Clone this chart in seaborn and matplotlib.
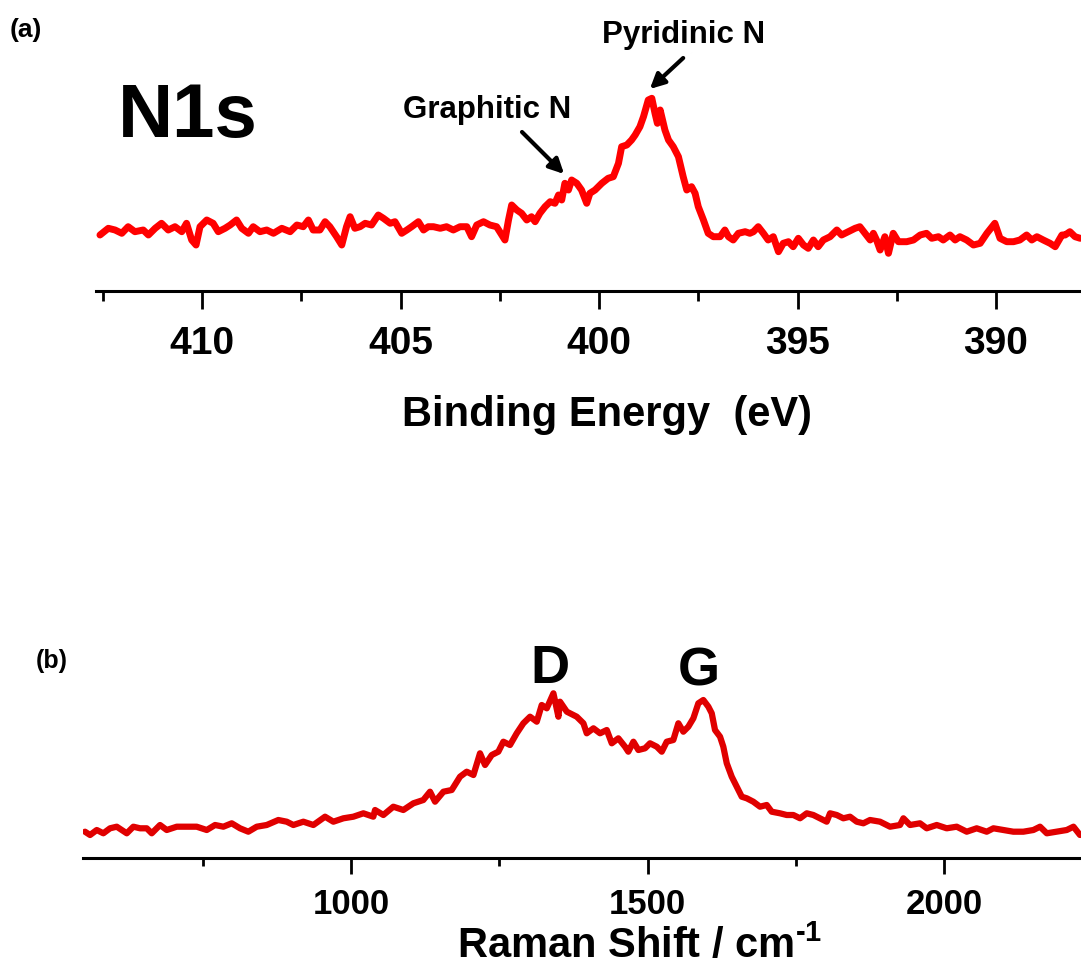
import matplotlib
matplotlib.use("Agg")
import matplotlib.pyplot as plt
from matplotlib.ticker import MultipleLocator
import seaborn as sns

# ---- Data ----
# (a) XPS N1s, binding energy (eV) vs intensity (a.u.)
be_n1s = [412.57, 412.36, 412.19, 412.02, 411.86, 411.69, 411.48, 411.35, 411.18, 411.02,
          410.85, 410.68, 410.51, 410.39, 410.26, 410.15, 410.05, 409.88, 409.72, 409.59,
          409.42, 409.29, 409.13, 409.00, 408.83, 408.71, 408.54, 408.37, 408.20, 407.99,
          407.78, 407.61, 407.45, 407.32, 407.20, 407.03, 406.90, 406.78, 406.61, 406.48,
          406.36, 406.27, 406.15, 406.02, 405.89, 405.73, 405.56, 405.43, 405.26, 405.14,
          404.97, 404.84, 404.72, 404.55, 404.42, 404.30,
          404.17, 404.00, 403.84, 403.67, 403.50, 403.33, 403.21, 403.08, 402.91, 402.75,
          402.58, 402.37, 402.28, 402.20, 402.07, 401.95, 401.82, 401.70, 401.61, 401.49,
          401.36, 401.23, 401.11, 401.02, 400.94, 400.86, 400.77, 400.69, 400.56, 400.44,
          400.31, 400.23, 400.10, 399.93, 399.77, 399.64, 399.51, 399.43, 399.30, 399.18,
          399.09, 398.97, 398.88, 398.76, 398.67, 398.59, 398.53, 398.46, 398.34, 398.25,
          398.13, 398.00, 397.88, 397.79, 397.67, 397.58, 397.50, 397.37, 397.25, 397.12,
          396.95, 396.83, 396.74, 396.62, 396.49, 396.32, 396.20,
          396.11, 395.99, 395.86, 395.74, 395.61, 395.48, 395.36, 395.23, 395.11, 394.98,
          394.85, 394.73, 394.60, 394.48, 394.35, 394.18, 394.01, 393.89, 393.72, 393.55,
          393.43, 393.30, 393.17, 393.09, 393.01, 392.92, 392.80, 392.71, 392.59, 392.46,
          392.25, 392.08, 391.91, 391.75, 391.62, 391.45, 391.33, 391.16, 391.03, 390.91,
          390.74, 390.57, 390.40, 390.23, 390.03, 389.90, 389.73, 389.56, 389.40, 389.23,
          389.10, 388.97, 388.81, 388.64, 388.51, 388.34, 388.26, 388.14, 388.01, 387.88]
int_n1s = [56, 62.7, 61, 57.7, 64.3, 59.3, 61, 56, 62.7, 67.7,
           61, 64.3, 59.3, 67.7, 51, 46, 64.3, 71, 67.7, 59.3,
           62.7, 66, 71, 62.7, 57.7, 64.3, 59.3, 61, 57.7, 62.7,
           59.3, 66, 64.3, 71, 61, 61, 69.3, 64.3, 54.3, 46,
           64.3, 74.3, 62.7, 64.3, 67.7, 66, 76, 72.7, 67.7, 69.3,
           57.7, 61, 64.3, 69.3, 61, 64.3,
           64.3, 62.7, 64.3, 61, 64.3, 64.3, 54.3, 66, 69.3, 66,
           64.3, 51, 71, 86, 81, 77.7, 71, 74.3, 69.3, 77.7,
           84.3, 89.3, 87.7, 96, 91, 107.7, 101, 111, 107.7, 101,
           87.7, 97.7, 101, 107.7, 112.7, 114.3, 127.7, 144.3, 146, 151,
           156, 164.3, 174.3, 191, 192.7, 177.7, 167.7, 181, 161, 151,
           144.3, 134.3, 114.3, 101, 104.3, 97.7, 84.3, 71, 57.7, 54.3,
           54.3, 61, 54.3, 51, 57.7, 59.3, 57.7,
           59.3, 64.3, 57.7, 51, 54.3, 39.3, 47.7, 49.3, 44.3, 52.7,
           46, 42.7, 51, 44.3, 51, 54.3, 61, 56, 59.3, 62.7,
           64.3, 57.7, 51, 57.7, 51, 41, 54.3, 37.7, 57.7, 49.3,
           49.3, 51, 56, 57.7, 52.7, 54.3, 51, 56, 51, 54.3,
           51, 46, 47.7, 57.7, 67.7, 52.7, 49.3, 49.3, 51, 56,
           51, 54.3, 51, 47.7, 44.3, 56, 56, 59.3, 54.3, 52.7]

# (b) Raman, shift (cm-1) vs intensity (a.u.)
raman_shift = [551.4, 559.9, 571.2, 582.3, 593.6, 604.9, 613.3, 621.8, 632.9, 644.2,
               655.5, 663.9, 677.9, 689.2, 706.1, 722.9, 739.8, 756.7, 770.7, 784.7,
               798.8, 812.8, 826.8, 841.0, 857.8, 877.4, 891.6, 902.7, 919.6, 936.5,
               956.2, 970.2, 987.1, 1003.9, 1020.8, 1037.6, 1040.5, 1054.5, 1071.3, 1088.2,
               1105.1, 1121.9, 1133.2, 1141.7, 1155.8, 1169.8, 1183.8, 1195.1, 1206.4, 1217.5,
               1226.0, 1237.3, 1248.4, 1256.9, 1268.1, 1279.4, 1290.6, 1301.9, 1313.2, 1321.6,
               1330.1, 1341.3, 1349.7, 1352.4, 1363.9,
               1380.6, 1391.9, 1397.5, 1408.8, 1419.9, 1431.3, 1439.7, 1450.8, 1462.1, 1467.6,
               1476.2, 1484.6, 1495.8, 1504.2, 1515.6, 1524.0, 1532.4, 1543.5, 1552.0, 1560.4,
               1568.8, 1577.3, 1585.7, 1594.1, 1602.6, 1608.3, 1613.8, 1622.3, 1627.8, 1633.6,
               1642.0, 1650.4, 1658.9, 1667.3, 1678.4, 1689.7, 1701.0, 1709.4, 1723.4, 1734.7,
               1745.9, 1757.2, 1768.5, 1779.6, 1790.9, 1802.2, 1807.8, 1819.1, 1830.2, 1841.5,
               1852.8, 1864.0, 1875.2, 1892.1, 1909.0, 1925.8, 1931.5, 1942.7, 1959.5, 1970.8,
               1987.7, 2004.5, 2021.4, 2038.3, 2055.1, 2072.0, 2083.3, 2100.0, 2116.9, 2133.8,
               2150.7, 2161.9, 2173.3, 2190.1, 2207.0, 2218.3, 2229.3]
raman_int = [26.3, 23, 28, 24.7, 29.7, 31.3, 28, 24.7, 31.3, 29.7,
             29.7, 24.7, 33, 28, 31.3, 31.3, 31.3, 28, 33, 31.3,
             34.7, 29.7, 26.3, 31.3, 33, 38, 36.3, 33, 36.3, 33,
             41.3, 36.3, 39.7, 41.3, 44.7, 41.3, 48, 43, 51.3, 48,
             54.7, 58, 66.3, 56.3, 66.3, 68, 81.3, 86.3, 83, 104.7,
             93, 103, 106.3, 116.3, 113, 124.7, 134.7, 141.3, 136.3, 153,
             149.7, 164.7, 141.3, 156.3, 146.3,
             141.3, 134.7, 124.7, 129.7, 124.7, 128, 114.7, 119.7, 111.3, 106.3,
             116.3, 108, 109.7, 114.7, 111.3, 106.3, 116.3, 118, 134.7, 126.3,
             131.3, 139.7, 154.7, 158, 151.3, 144.7, 128, 121.3, 111.3, 94.7,
             81.3, 71.3, 61.3, 59.7, 56.3, 51.3, 53, 46.3, 44.7, 43,
             43, 39.7, 44.7, 43, 39.7, 36.3, 44.7, 43, 39.7, 41.3,
             36.3, 34.7, 38, 36.3, 31.3, 33, 39.7, 33, 34.7, 29.7,
             33, 29.7, 31.3, 26.3, 29.7, 26.3, 29.7, 28, 26.3, 26.3,
             28, 31.3, 24.7, 26.3, 28, 31.3, 23]

xps_ticks = [410, 405, 400, 395, 390]
raman_ticks = [1000, 1500, 2000]

# ---- Style ----
sns.set_style("white")
plt.rcParams['font.family'] = ['Liberation Sans', 'DejaVu Sans']
plt.rcParams['font.weight'] = 'bold'
plt.rcParams['text.color'] = 'black'
plt.rcParams['axes.labelcolor'] = 'black'
plt.rcParams['xtick.color'] = 'black'
plt.rcParams['mathtext.fontset'] = 'custom'
plt.rcParams['mathtext.rm'] = 'Liberation Sans:bold'
plt.rcParams['mathtext.bf'] = 'Liberation Sans:bold'

fig = plt.figure(figsize=(10.81, 9.73), dpi=100)
ax1 = fig.add_axes([96 / 1081, 682 / 973, 985 / 1081, 291 / 973])
ax2 = fig.add_axes([83 / 1081, 115 / 973, 998 / 1081, 238 / 973])

for ax in (ax1, ax2):
    ax.set_facecolor('white')
    for s in ('left', 'right', 'top'):
        ax.spines[s].set_visible(False)
    ax.spines['bottom'].set_linewidth(2.2)
    ax.spines['bottom'].set_color('black')
    ax.set_yticks([])
    ax.set_ylabel('')
    ax.grid(False)

# ---- (a) N1s ----
sns.lineplot(x=be_n1s, y=int_n1s, ax=ax1, color='#FF0000', linewidth=5,
             solid_joinstyle='round', solid_capstyle='round')
ax1.set_xlim(412.67, 387.86)
ax1.set_ylim(0, 291)
ax1.set_xticks(xps_ticks)
ax1.xaxis.set_minor_locator(MultipleLocator(2.5))
ax1.tick_params(axis='x', which='major', direction='out', length=13, width=2,
                labelsize=28, pad=12, bottom=True, colors='black')
ax1.tick_params(axis='x', which='minor', direction='out', length=7, width=2, bottom=True)
ax1.set_xlabel('Binding Energy  (eV)', fontsize=30, fontweight='bold')
ax1.xaxis.set_label_coords(0.519, -0.425)
ax1.xaxis.label.set_va('center')

ax1.text(412.12, 154, 'N1s', fontsize=55, fontweight='bold', ha='left', va='baseline')
ax1.text(402.82, 173, 'Graphitic N', fontsize=22.5, fontweight='bold', ha='center', va='baseline')
ax1.text(397.86, 248, 'Pyridinic N', fontsize=22.5, fontweight='bold', ha='center', va='baseline')
arrow = dict(arrowstyle='-|>', color='black', lw=3, mutation_scale=22, shrinkA=0, shrinkB=0)
ax1.annotate('', xy=(400.88, 117), xytext=(401.94, 159), arrowprops=arrow)
ax1.annotate('', xy=(398.72, 202), xytext=(397.88, 233), arrowprops=arrow)

# ---- (b) Raman ----
sns.lineplot(x=raman_shift, y=raman_int, ax=ax2, color='#E00000', linewidth=4.5,
             solid_joinstyle='round', solid_capstyle='round')
ax2.set_xlim(548, 2231)
ax2.set_ylim(0, 238)
ax2.set_xticks(raman_ticks)
ax2.xaxis.set_minor_locator(MultipleLocator(250))
ax2.tick_params(axis='x', which='major', direction='out', length=11.5, width=2,
                labelsize=25, pad=10, bottom=True, colors='black')
ax2.tick_params(axis='x', which='minor', direction='out', length=6, width=2, bottom=True)
ax2.set_xlabel('Raman Shift / cm$^{\u2010\\mathbf{1}}$', fontsize=30, fontweight='bold')
ax2.xaxis.set_label_coords(0.558, -0.37)
ax2.xaxis.label.set_va('center')

ax2.text(1336, 189, 'D', fontsize=39, fontweight='bold', ha='center', va='center')
ax2.text(1586, 186, 'G', fontsize=39, fontweight='bold', ha='center', va='center')

fig.text(10 / 1081, 1 - 30 / 973, '(a)', fontsize=19, fontweight='bold', ha='left', va='center')
fig.text(36 / 1081, 1 - 661 / 973, '(b)', fontsize=18, fontweight='bold', ha='left', va='center')

fig.savefig('out.png', dpi=100, facecolor='white')
